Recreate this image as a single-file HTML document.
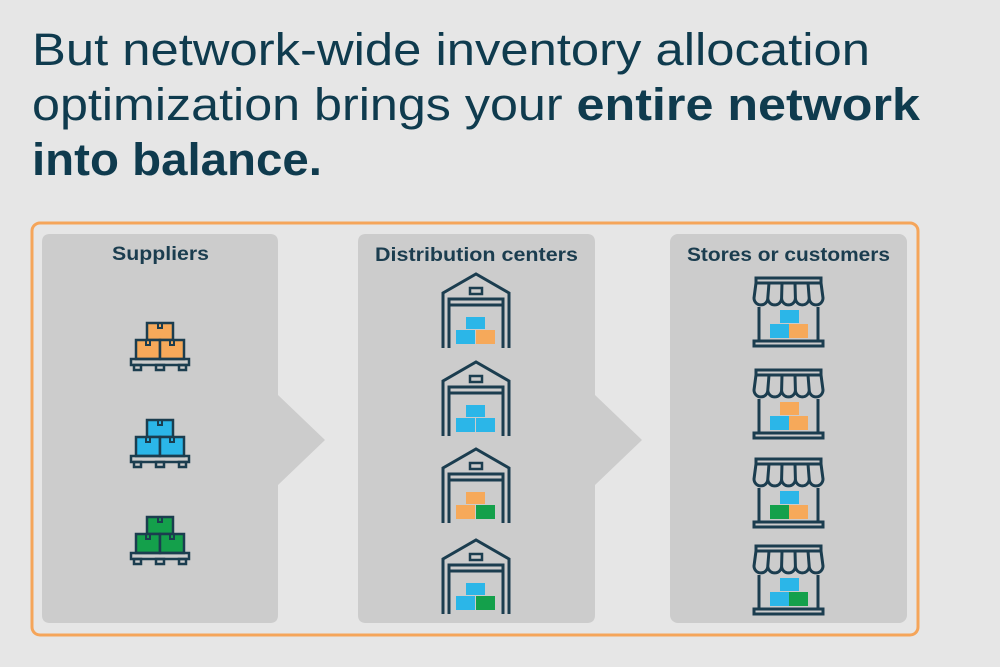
<!DOCTYPE html>
<html><head><meta charset="utf-8"><style>
body{margin:0;width:1000px;height:667px;background:#e6e6e6;overflow:hidden;font-family:"Liberation Sans",sans-serif}
</style></head><body>
<svg width="1000" height="667" viewBox="0 0 1000 667" xmlns="http://www.w3.org/2000/svg" style="position:absolute;left:0;top:0">
<defs>
<g id="wh" fill="none" stroke="#1b3d4f" stroke-width="3">
  <path d="M3 75 V20 L36 1 L69 20 V75"/>
  <path d="M9 75 V26 H63 V75"/>
  <line x1="9" y1="32" x2="63" y2="32"/>
  <rect x="30" y="15" width="12" height="6" stroke-width="2.5"/>
</g>
<g id="st" fill="none" stroke="#1b3d4f" stroke-width="3">
  <rect x="3" y="1" width="65" height="5"/>
  <path d="M3 6 L1 21 A6.9 6.9 0 0 0 14.8 21 L16 6 M14.8 21 A6.9 6.9 0 0 0 28.6 21 L29 6 M28.6 21 A6.9 6.9 0 0 0 42.4 21 L42 6 M42.4 21 A6.9 6.9 0 0 0 56.2 21 L55 6 M56.2 21 A6.9 6.9 0 0 0 70 21 L68 6"/>
  <line x1="6" y1="30" x2="6" y2="64"/><line x1="65" y1="30" x2="65" y2="64"/>
  <rect x="1" y="64" width="69" height="5"/>
</g>
<g id="pal" stroke="#1b3d4f" stroke-width="2.5" fill="none">
  <rect x="1" y="37" width="58" height="6"/>
  <rect x="4" y="43" width="7" height="5"/><rect x="26" y="43" width="8" height="5"/><rect x="49" y="43" width="7" height="5"/>
</g>
<g id="tabs" stroke="#1b3d4f" stroke-width="2" fill="none">
  <path d="M28 1 V6 H32 V1"/><path d="M16 18 V23 H20 V18"/><path d="M40 18 V23 H44 V18"/>
</g>
</defs>
<g fill="#0f3b4e" font-size="45">
<text x="32" y="65" textLength="838" lengthAdjust="spacingAndGlyphs">But network-wide inventory allocation</text>
<text x="32" y="120" textLength="888" lengthAdjust="spacingAndGlyphs">optimization brings your <tspan font-weight="bold">entire network</tspan></text>
<text x="32" y="175" font-weight="bold" textLength="290" lengthAdjust="spacingAndGlyphs">into balance.</text>
</g>

<rect x="32" y="223" width="886" height="412" rx="8" fill="none" stroke="#f5a55a" stroke-width="3"/>
<path d="M50 234 H270 Q278 234 278 242 V395 L325 440 L278 485 V615 Q278 623 270 623 H50 Q42 623 42 615 V242 Q42 234 50 234Z" fill="#cccccc"/>
<path d="M366 234 H587 Q595 234 595 242 V395 L642 440 L595 485 V615 Q595 623 587 623 H366 Q358 623 358 615 V242 Q358 234 366 234Z" fill="#cccccc"/>
<rect x="670" y="234" width="237" height="389" rx="8" fill="#cccccc"/>

<g font-size="19" font-weight="bold" fill="#1b3d4f">
<text x="112" y="260" textLength="97" lengthAdjust="spacingAndGlyphs">Suppliers</text>
<text x="375" y="261" textLength="203" lengthAdjust="spacingAndGlyphs">Distribution centers</text>
<text x="687" y="261" textLength="203" lengthAdjust="spacingAndGlyphs">Stores or customers</text>
</g>

<!-- suppliers -->
<g transform="translate(130,322)">
 <g stroke="#1b3d4f" stroke-width="2.5" fill="#f6a95a"><rect x="17" y="1" width="26" height="17"/><rect x="6" y="18" width="24" height="19"/><rect x="30" y="18" width="24" height="19"/></g>
 <use href="#tabs"/><use href="#pal"/>
</g>
<g transform="translate(130,419)">
 <g stroke="#1b3d4f" stroke-width="2.5" fill="#2bb6e8"><rect x="17" y="1" width="26" height="17"/><rect x="6" y="18" width="24" height="19"/><rect x="30" y="18" width="24" height="19"/></g>
 <use href="#tabs"/><use href="#pal"/>
</g>
<g transform="translate(130,516)">
 <g stroke="#1b3d4f" stroke-width="2.5" fill="#14a04b"><rect x="17" y="1" width="26" height="17"/><rect x="6" y="18" width="24" height="19"/><rect x="30" y="18" width="24" height="19"/></g>
 <use href="#tabs"/><use href="#pal"/>
</g>

<!-- warehouses -->
<g transform="translate(440,273)"><use href="#wh"/><rect x="26" y="44" width="19" height="12" fill="#2bb6e8"/><rect x="16" y="57" width="19" height="14" fill="#2bb6e8"/><rect x="36" y="57" width="19" height="14" fill="#f6a95a"/></g>
<g transform="translate(440,361)"><use href="#wh"/><rect x="26" y="44" width="19" height="12" fill="#2bb6e8"/><rect x="16" y="57" width="19" height="14" fill="#2bb6e8"/><rect x="36" y="57" width="19" height="14" fill="#2bb6e8"/></g>
<g transform="translate(440,448)"><use href="#wh"/><rect x="26" y="44" width="19" height="12" fill="#f6a95a"/><rect x="16" y="57" width="19" height="14" fill="#f6a95a"/><rect x="36" y="57" width="19" height="14" fill="#14a04b"/></g>
<g transform="translate(440,539)"><use href="#wh"/><rect x="26" y="44" width="19" height="12" fill="#2bb6e8"/><rect x="16" y="57" width="19" height="14" fill="#2bb6e8"/><rect x="36" y="57" width="19" height="14" fill="#14a04b"/></g>

<!-- stores -->
<g transform="translate(753,277)"><use href="#st"/><rect x="27" y="33" width="19" height="13" fill="#2bb6e8"/><rect x="17" y="47" width="19" height="14" fill="#2bb6e8"/><rect x="36" y="47" width="19" height="14" fill="#f6a95a"/></g>
<g transform="translate(753,369)"><use href="#st"/><rect x="27" y="33" width="19" height="13" fill="#f6a95a"/><rect x="17" y="47" width="19" height="14" fill="#2bb6e8"/><rect x="36" y="47" width="19" height="14" fill="#f6a95a"/></g>
<g transform="translate(753,458)"><use href="#st"/><rect x="27" y="33" width="19" height="13" fill="#2bb6e8"/><rect x="17" y="47" width="19" height="14" fill="#14a04b"/><rect x="36" y="47" width="19" height="14" fill="#f6a95a"/></g>
<g transform="translate(753,545)"><use href="#st"/><rect x="27" y="33" width="19" height="13" fill="#2bb6e8"/><rect x="17" y="47" width="19" height="14" fill="#2bb6e8"/><rect x="36" y="47" width="19" height="14" fill="#14a04b"/></g>
</svg>
</body></html>
